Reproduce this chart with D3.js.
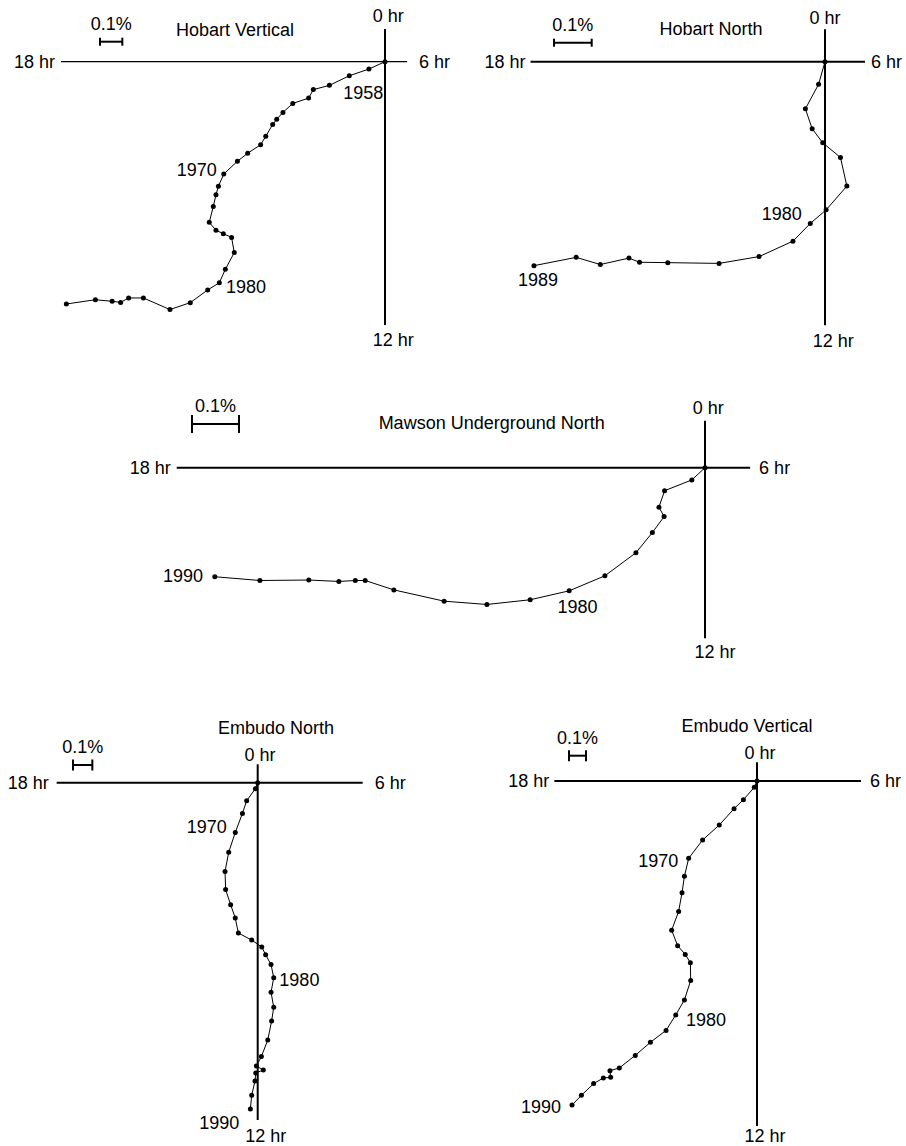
<!DOCTYPE html>
<html><head><meta charset="utf-8">
<script src="https://cdn.jsdelivr.net/npm/d3@7"></script>
<style>
body{margin:0;background:#fff}
text{font-family:"Liberation Sans",Arial,Helvetica,sans-serif;font-size:18px;fill:#000}
</style>
</head><body>
<svg id="chart" width="906" height="1146"></svg>
<script>
// ---- text / tick labels ----
const hourLabels = {top: "0 hr", right: "6 hr", bottom: "12 hr", left: "18 hr"};
const scaleBarValue = 0.1;
const scaleBarText = "0.1%";
const titles = ["Hobart Vertical", "Hobart North", "Mawson Underground North", "Embudo North", "Embudo Vertical"];

// ---- series: cumulative harmonic-dial vectors (%): E = toward 6 hr, N = toward 0 hr ----
const hobartVertE = [0,-0.072,-0.160,-0.249,-0.321,-0.342,-0.413,-0.457,-0.485,-0.503,-0.534,-0.557,-0.615,-0.661,-0.722,-0.746,-0.757,-0.769,-0.787,-0.757,-0.724,-0.687,-0.675,-0.715,-0.742,-0.794,-0.872,-0.963,-1.082,-1.148,-1.184,-1.222,-1.297,-1.427];
const hobartVertN = [0,-0.033,-0.063,-0.106,-0.125,-0.163,-0.187,-0.227,-0.258,-0.281,-0.334,-0.372,-0.410,-0.446,-0.503,-0.558,-0.596,-0.649,-0.719,-0.755,-0.770,-0.787,-0.855,-0.930,-0.990,-1.022,-1.079,-1.110,-1.058,-1.058,-1.078,-1.073,-1.066,-1.085];
const hobartVertYears = [[2,"1958"],[14,"1970"],[24,"1980"]];

const hobartNorthE = [0,-0.017,-0.052,-0.034,-0.006,0.041,0.058,0.003,-0.039,-0.085,-0.175,-0.281,-0.417,-0.492,-0.520,-0.596,-0.660,-0.772];
const hobartNorthN = [0,-0.060,-0.125,-0.178,-0.215,-0.254,-0.330,-0.393,-0.429,-0.476,-0.517,-0.535,-0.533,-0.532,-0.521,-0.538,-0.519,-0.541];
const hobartNorthYears = [[8,"1980"],[17,"1989"]];

const mawsonE = [0,-0.028,-0.086,-0.098,-0.087,-0.112,-0.147,-0.213,-0.289,-0.372,-0.464,-0.555,-0.662,-0.723,-0.744,-0.779,-0.843,-0.947,-1.043];
const mawsonN = [0,-0.026,-0.049,-0.084,-0.104,-0.138,-0.181,-0.230,-0.262,-0.281,-0.291,-0.284,-0.260,-0.240,-0.240,-0.242,-0.239,-0.240,-0.232];
const mawsonYears = [[8,"1980"],[18,"1990"]];

const embudoNorthE = [0,-0.012,-0.057,-0.079,-0.116,-0.150,-0.169,-0.166,-0.140,-0.116,-0.100,-0.031,0.021,0.041,0.069,0.083,0.069,0.083,0.072,0.052,0.019,-0.007,0.029,-0.010,-0.014,-0.031,-0.038];
const embudoNorthN = [0,-0.031,-0.093,-0.159,-0.257,-0.360,-0.459,-0.553,-0.631,-0.700,-0.778,-0.814,-0.850,-0.890,-0.941,-1.009,-1.084,-1.162,-1.233,-1.331,-1.417,-1.466,-1.486,-1.502,-1.543,-1.617,-1.688];
const embudoNorthYears = [[4,"1970"],[15,"1980"],[26,"1990"]];

const embudoVertE = [0,-0.016,-0.080,-0.135,-0.222,-0.320,-0.402,-0.427,-0.441,-0.461,-0.502,-0.467,-0.422,-0.392,-0.390,-0.427,-0.478,-0.535,-0.627,-0.716,-0.810,-0.865,-0.861,-0.904,-0.961,-1.033,-1.088];
const embudoVertN = [0,-0.037,-0.110,-0.163,-0.259,-0.347,-0.455,-0.561,-0.657,-0.767,-0.878,-0.969,-1.020,-1.069,-1.173,-1.288,-1.376,-1.467,-1.537,-1.614,-1.688,-1.704,-1.743,-1.747,-1.780,-1.849,-1.906];
const embudoVertYears = [[6,"1970"],[16,"1980"],[26,"1990"]];

// ---- layout (positions/sizes only) ----
// gaps: [left, right, top, bottom, topDx, bottomDx]
const layout = [
  {E: hobartVertE, N: hobartVertN, years: hobartVertYears, title: titles[0],
   origin: [385, 61.7], k: 223.3, xExt: [-1.451, 0.099], yExt: [-1.179, 0.146], hW: 1.2, vW: 2,
   gaps: [6, 12, 6.7, 21, 3.3, 8.3],
   titlePos: [235, 35.7], bar: [100, 41.7, 4], yearOff: [[-6, 23.3, "start"], [-7, 2, "end"], [6.7, 10.6, "start"]]},
  {E: hobartNorthE, N: hobartNorthN, years: hobartNorthYears, title: titles[1],
   origin: [825, 61.7], k: 377, xExt: [-0.781, 0.106], yExt: [-0.699, 0.086], hW: 2, vW: 2,
   gaps: [5, 6, 5.3, 21.7, 0, 8.3],
   titlePos: [711, 35], bar: [554, 42.7, 4], yearOff: [[-8.6, -3.3, "end"], [4, 20.7, "middle"]]},
  {E: mawsonE, N: mawsonN, years: mawsonYears, title: titles[2],
   origin: [705, 467.7], k: 470, xExt: [-1.124, 0.096], yExt: [-0.363, 0.100], hW: 2, vW: 2,
   gaps: [6, 9, 6.7, 19.7, 3.3, 10],
   titlePos: [491.7, 429.3], bar: [192, 424, 9], yearOff: [[8.3, 22.6, "middle"], [-11.7, 5, "end"]]},
  {E: embudoNorthE, N: embudoNorthN, years: embudoNorthYears, title: titles[3],
   origin: [257.7, 782.7], k: 193.3, xExt: [-1.040, 0.543], yExt: [-1.745, 0.095], hW: 2, vW: 2,
   gaps: [8, 12, 3.3, 22, 2.3, 8],
   titlePos: [276, 734], bar: [73, 765, 5.5], yearOff: [[-8.6, 1, "end"], [5.6, 8.3, "start"], [-11, 20.3, "end"]]},
  {E: embudoVertE, N: embudoVertN, years: embudoVertYears, title: titles[4],
   origin: [757, 781], k: 170, xExt: [-1.192, 0.612], yExt: [-2.029, 0.110], hW: 2, vW: 2,
   gaps: [5, 9, 3.3, 16, 3, 8],
   titlePos: [747, 731.7], bar: [569, 755.7, 5.5], yearOff: [[-10.4, 9, "end"], [10.3, 11, "start"], [-11, 7.7, "end"]]}
];

const svg = d3.select("#chart");
svg.append("rect").attr("width", 906).attr("height", 1146).attr("fill", "#fff");

layout.forEach(p => {
  const g = svg.append("g");
  const [ox, oy] = p.origin;
  const [gl, gr, gt, gb, tdx, bdx] = p.gaps;
  const x = d3.scaleLinear().domain([0, 1]).range([ox, ox + p.k]);
  const y = d3.scaleLinear().domain([0, 1]).range([oy, oy - p.k]);

  // axes
  g.append("line").attr("x1", x(p.xExt[0])).attr("x2", x(p.xExt[1]))
    .attr("y1", y(0)).attr("y2", y(0)).attr("stroke", "#000").attr("stroke-width", p.hW);
  g.append("line").attr("x1", x(0)).attr("x2", x(0))
    .attr("y1", y(p.yExt[1])).attr("y2", y(p.yExt[0])).attr("stroke", "#000").attr("stroke-width", p.vW);

  // hour labels
  g.append("text").attr("x", x(p.xExt[0]) - gl).attr("y", y(0)).attr("dy", "0.34em")
    .attr("text-anchor", "end").text(hourLabels.left);
  g.append("text").attr("x", x(p.xExt[1]) + gr).attr("y", y(0)).attr("dy", "0.34em")
    .attr("text-anchor", "start").text(hourLabels.right);
  g.append("text").attr("x", x(0) + tdx).attr("y", y(p.yExt[1]) - gt)
    .attr("text-anchor", "middle").text(hourLabels.top);
  g.append("text").attr("x", x(0) + bdx).attr("y", y(p.yExt[0]) + gb)
    .attr("text-anchor", "middle").text(hourLabels.bottom);

  // title
  g.append("text").attr("x", p.titlePos[0]).attr("y", p.titlePos[1])
    .attr("text-anchor", "middle").text(p.title);

  // scale bar
  const [bx, by, bh] = p.bar;
  const bw = x(scaleBarValue) - x(0);
  const sb = g.append("g").attr("stroke", "#000").attr("stroke-width", 2);
  sb.append("line").attr("x1", bx).attr("x2", bx + bw).attr("y1", by).attr("y2", by);
  sb.append("line").attr("x1", bx).attr("x2", bx).attr("y1", by - bh).attr("y2", by + bh);
  sb.append("line").attr("x1", bx + bw).attr("x2", bx + bw).attr("y1", by - bh).attr("y2", by + bh);
  g.append("text").attr("x", bx + bw / 2).attr("y", by - 12)
    .attr("text-anchor", "middle").text(scaleBarText);

  // path
  const idx = d3.range(p.E.length);
  const line = d3.line().x(i => x(p.E[i])).y(i => y(p.N[i]));
  g.append("path").attr("d", line(idx)).attr("fill", "none")
    .attr("stroke", "#000").attr("stroke-width", 1);
  g.selectAll("circle.pt").data(idx).join("circle").attr("class", "pt")
    .attr("cx", i => x(p.E[i])).attr("cy", i => y(p.N[i])).attr("r", 2.5).attr("fill", "#000");

  // year labels
  p.years.forEach(([i, t], j) => {
    const [dx, dy, anchor] = p.yearOff[j];
    g.append("text").attr("x", x(p.E[i]) + dx).attr("y", y(p.N[i]) + dy)
      .attr("text-anchor", anchor).text(t);
  });
});
</script>
</body></html>
